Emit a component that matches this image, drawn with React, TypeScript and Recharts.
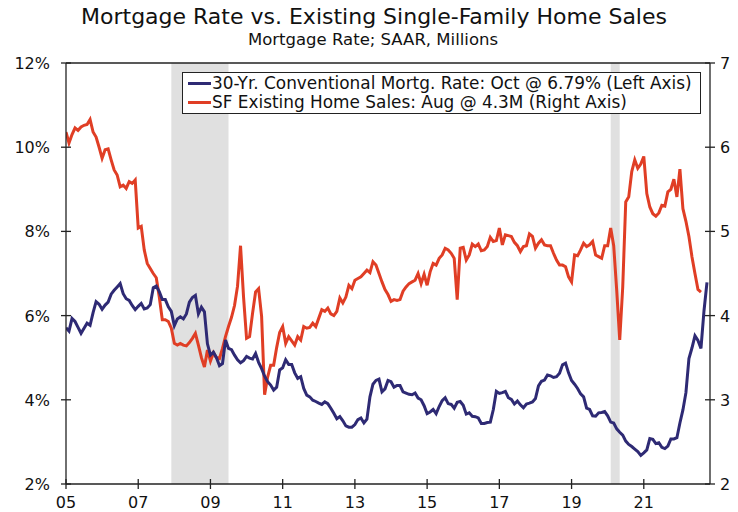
import React from "react";
import {
  LineChart,
  Line,
  XAxis,
  YAxis,
  ReferenceArea,
  ReferenceLine,
  Legend,
} from "recharts";

const START_YEAR = 2005;

// 30-yr conventional mortgage rate, monthly from Jan 2005 (%)
const mortgageRate = [
  5.71, 5.63, 5.93, 5.86, 5.72, 5.58, 5.70, 5.82, 5.77, 6.07, 6.33, 6.27,
  6.15, 6.25, 6.32, 6.51, 6.60, 6.68, 6.76, 6.52, 6.40, 6.36, 6.24, 6.14,
  6.22, 6.29, 6.16, 6.18, 6.26, 6.66, 6.70, 6.57, 6.38, 6.38, 6.21, 6.10,
  5.76, 5.92, 5.97, 5.92, 6.04, 6.32, 6.43, 6.48, 6.04, 6.20, 6.09, 5.33,
  5.06, 5.13, 5.00, 4.81, 4.86, 5.42, 5.22, 5.19, 5.06, 4.95, 4.88, 4.93,
  5.03, 4.99, 4.97, 5.10, 4.89, 4.74, 4.56, 4.43, 4.35, 4.23, 4.30, 4.71,
  4.76, 4.95, 4.84, 4.84, 4.64, 4.51, 4.55, 4.27, 4.11, 4.07, 3.99, 3.96,
  3.92, 3.89, 3.95, 3.91, 3.80, 3.68, 3.55, 3.60, 3.50, 3.38, 3.35, 3.35,
  3.41, 3.53, 3.57, 3.45, 3.54, 4.07, 4.37, 4.46, 4.49, 4.19, 4.26, 4.46,
  4.43, 4.30, 4.34, 4.34, 4.19, 4.16, 4.13, 4.12, 4.16, 4.04, 4.00, 3.86,
  3.67, 3.71, 3.77, 3.67, 3.84, 3.98, 4.05, 3.91, 3.89, 3.80, 3.94, 3.96,
  3.87, 3.66, 3.69, 3.61, 3.60, 3.57, 3.44, 3.44, 3.46, 3.47, 3.77, 4.20,
  4.15, 4.17, 4.20, 4.05, 4.01, 3.90, 3.97, 3.88, 3.81, 3.90, 3.92, 3.95,
  4.03, 4.33, 4.44, 4.47, 4.59, 4.57, 4.53, 4.55, 4.63, 4.83, 4.87, 4.64,
  4.46, 4.37, 4.27, 4.14, 4.07, 3.80, 3.77, 3.62, 3.61, 3.69, 3.70, 3.72,
  3.62, 3.47, 3.45, 3.31, 3.23, 3.16, 3.02, 2.94, 2.89, 2.83, 2.77, 2.68,
  2.74, 2.81, 3.08, 3.06, 2.96, 2.98, 2.87, 2.84, 2.90, 3.07, 3.07, 3.10,
  3.45, 3.76, 4.17, 4.98, 5.23, 5.52, 5.41, 5.22, 6.11, 6.79,
];

// Existing single-family home sales, SAAR millions, monthly from Jan 2005
const homeSales = [
  6.18, 6.05, 6.15, 6.23, 6.20, 6.24, 6.26, 6.27, 6.33, 6.18, 6.12, 6.00,
  5.87, 5.97, 5.98, 5.85, 5.73, 5.67, 5.53, 5.55, 5.51, 5.59, 5.57, 5.61,
  5.04, 5.06, 4.78, 4.62, 4.56, 4.50, 4.45, 4.22, 3.95, 3.95, 3.93, 3.85,
  3.67, 3.65, 3.67, 3.65, 3.64, 3.68, 3.73, 3.79, 3.65, 3.50, 3.39, 3.59,
  3.46, 3.56, 3.50, 3.49, 3.61, 3.75, 3.87, 3.98, 4.12, 4.35, 4.83, 4.22,
  3.73, 3.75, 4.03, 4.28, 4.32, 3.99, 3.06, 3.27, 3.41, 3.41, 3.62, 3.80,
  3.87, 3.67, 3.75, 3.70, 3.65, 3.75, 3.71, 3.87, 3.85, 3.86, 3.91, 3.87,
  3.97, 4.07, 4.05, 4.09, 4.02, 4.00, 4.05, 4.21, 4.15, 4.22, 4.36, 4.32,
  4.42, 4.44, 4.46, 4.50, 4.54, 4.51, 4.64, 4.60, 4.50, 4.40, 4.31, 4.25,
  4.17, 4.19, 4.18, 4.19, 4.29, 4.34, 4.38, 4.40, 4.42, 4.50, 4.38, 4.49,
  4.36, 4.52, 4.62, 4.60, 4.68, 4.72, 4.80, 4.78, 4.74, 4.68, 4.19, 4.80,
  4.81, 4.66, 4.72, 4.85, 4.82, 4.85, 4.77, 4.78, 4.82, 4.93, 4.88, 4.89,
  5.04, 4.84, 4.96, 4.95, 4.94, 4.87, 4.83, 4.76, 4.82, 4.83, 4.97, 4.94,
  4.80, 4.86, 4.90, 4.84, 4.83, 4.83, 4.74, 4.66, 4.60, 4.60, 4.58, 4.46,
  4.40, 4.72, 4.71, 4.78, 4.86, 4.82, 4.84, 4.88, 4.72, 4.70, 4.68, 4.83,
  4.83, 5.04, 4.83, 4.30, 3.71, 4.34, 5.35, 5.41, 5.71, 5.85, 5.75, 5.80,
  5.89, 5.45, 5.29, 5.21, 5.18, 5.22, 5.31, 5.30, 5.47, 5.50, 5.62, 5.41,
  5.74, 5.27, 5.12, 4.94, 4.70, 4.50, 4.31, 4.28,
];

const xTicks = [2005, 2007, 2009, 2011, 2013, 2015, 2017, 2019, 2021];
const leftTicks = [2, 4, 6, 8, 10, 12];
const rightTicks = [2, 3, 4, 5, 6, 7];

// recessions, [start, end) in decimal years
const recessions = [
  [2007 + 11 / 12, 2009.5],
  [2020 + 1 / 12, 2020 + 4 / 12],
];

const xEnd = START_YEAR + 214 / 12;

const data = mortgageRate.map((rate, i) => ({
  x: START_YEAR + i / 12,
  rate,
  sales: i < homeSales.length ? homeSales[i] : null,
}));

const FONT = "'DejaVu Sans', Verdana, sans-serif";
const AXIS = "#222";
const BLUE = "#2E2A74";
const RED = "#E03E25";

const LeftTick = (props: any) => {
  const { x, y, payload } = props;
  const ax = x + 16;
  return (
    <g>
      <line x1={ax - 5} x2={ax + 5} y1={y} y2={y} stroke={AXIS} strokeWidth={1.3} />
      <text x={x} y={y} dy={6} textAnchor="end" fontSize={16} fill="#111" fontFamily={FONT}>
        {payload.value}%
      </text>
    </g>
  );
};

const RightTick = (props: any) => {
  const { x, y, payload } = props;
  const ax = x - 10;
  return (
    <g>
      <line x1={ax - 5} x2={ax + 5} y1={y} y2={y} stroke={AXIS} strokeWidth={1.3} />
      <text x={x} y={y} dy={6} textAnchor="start" fontSize={16} fill="#111" fontFamily={FONT}>
        {payload.value}
      </text>
    </g>
  );
};

const BottomTick = (props: any) => {
  const { x, y, payload } = props;
  const ay = y - 10;
  return (
    <g>
      <line x1={x} x2={x} y1={ay - 5} y2={ay + 5} stroke={AXIS} strokeWidth={1.3} />
      <text x={x} y={ay + 24} textAnchor="middle" fontSize={16} fill="#111" fontFamily={FONT}>
        {String(payload.value).slice(2)}
      </text>
    </g>
  );
};

const legendRows = [
  { color: BLUE, label: "30-Yr. Conventional Mortg. Rate: Oct @ 6.79% (Left Axis)" },
  { color: RED, label: "SF Existing Home Sales: Aug @ 4.3M (Right Axis)" },
];

const LegendBox = () => (
  <div
    style={{
      border: "1.3px solid #222",
      background: "#fff",
      padding: "1px 4px 1px 5px",
      fontFamily: FONT,
      fontSize: 16.9,
      color: "#111",
      lineHeight: "19px",
      width: 519,
      boxSizing: "border-box",
    }}
  >
    {legendRows.map((r) => (
      <div key={r.label} style={{ display: "flex", alignItems: "center", whiteSpace: "nowrap" }}>
        <span style={{ display: "inline-block", width: 23, height: 3, background: r.color, marginRight: 1 }} />
        <span>{r.label}</span>
      </div>
    ))}
  </div>
);

export default function App() {
  return (
    <div style={{ position: "absolute", left: 0, top: 0, width: 738, height: 512, background: "#fff" }}>
      <div
        style={{
          position: "absolute",
          left: 0,
          top: 4,
          width: 748,
          textAlign: "center",
          fontFamily: FONT,
          fontSize: 22,
          color: "#111",
          lineHeight: "26px",
        }}
      >
        Mortgage Rate vs. Existing Single-Family Home Sales
      </div>
      <div
        style={{
          position: "absolute",
          left: 0,
          top: 30,
          width: 746,
          textAlign: "center",
          fontFamily: FONT,
          fontSize: 16.5,
          color: "#111",
          lineHeight: "20px",
        }}
      >
        Mortgage Rate; SAAR, Millions
      </div>
      <LineChart
        width={738}
        height={512}
        data={data}
        margin={{ top: 63, right: 0, bottom: 0, left: 0 }}
        style={{ position: "absolute", left: 0, top: 0 }}
      >
        {recessions.map(([a, b]) => (
          <ReferenceArea
            key={a}
            x1={a}
            x2={b}
            yAxisId="left"
            fill="#E0E0E0"
            fillOpacity={1}
            stroke="none"
            ifOverflow="hidden"
          />
        ))}
        <ReferenceLine yAxisId="left" y={12} stroke={AXIS} strokeWidth={1.3} />
        <XAxis
          dataKey="x"
          type="number"
          domain={[START_YEAR, xEnd]}
          ticks={xTicks}
          height={28}
          tickLine={false}
          tickSize={5}
          tickMargin={5}
          stroke={AXIS}
          strokeWidth={1.3}
          tick={<BottomTick />}
          allowDataOverflow
        />
        <YAxis
          yAxisId="left"
          orientation="left"
          domain={[2, 12]}
          ticks={leftTicks}
          width={66}
          tickLine={false}
          tickSize={5}
          tickMargin={11}
          stroke={AXIS}
          strokeWidth={1.3}
          tick={<LeftTick />}
        />
        <YAxis
          yAxisId="right"
          orientation="right"
          domain={[2, 7]}
          ticks={rightTicks}
          width={28}
          tickLine={false}
          tickSize={5}
          tickMargin={5}
          stroke={AXIS}
          strokeWidth={1.3}
          tick={<RightTick />}
        />
        <Line
          yAxisId="right"
          dataKey="sales"
          stroke={RED}
          strokeWidth={3}
          dot={false}
          type="linear"
          isAnimationActive={false}
          connectNulls={false}
        />
        <Line
          yAxisId="left"
          dataKey="rate"
          stroke={BLUE}
          strokeWidth={3}
          dot={false}
          type="linear"
          isAnimationActive={false}
        />
        <Legend
          layout="horizontal"
          verticalAlign="middle"
          align="center"
          wrapperStyle={{ position: "absolute", left: 182, top: 72, width: 519 }}
          content={<LegendBox />}
        />
      </LineChart>
    </div>
  );
}
